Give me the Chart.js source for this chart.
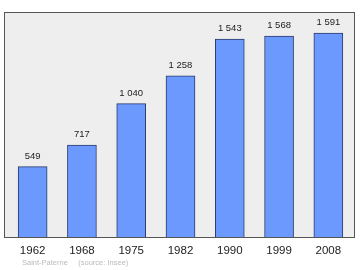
<!DOCTYPE html>
<html>
<head>
<meta charset="utf-8">
<script src="https://cdn.jsdelivr.net/npm/chart.js@4"></script>
<style>
  html, body { margin: 0; padding: 0; background: #fff; }
  #wrap { width: 360px; height: 270px; position: relative; }
</style>
</head>
<body>
<div id="wrap"><canvas id="chart"></canvas></div>
<script>
// --- DATA ---
const years = ["1962", "1968", "1975", "1982", "1990", "1999", "2008"];
const population = [549, 717, 1040, 1258, 1543, 1568, 1591];
const commune = "Saint-Paterne";
const source = "(source: Insee)";

const fmt = v => String(v).replace(/\B(?=(\d{3})+(?!\d))/g, " ");

// fond gris + cadre autour de la zone du graphique
const framePlugin = {
  id: "frame",
  beforeDatasetsDraw(chart) {
    const { ctx, chartArea: a } = chart;
    ctx.save();
    ctx.fillStyle = "#eeeeee";
    ctx.fillRect(a.left - 4, a.top, a.right - a.left + 6, a.bottom - a.top);
    ctx.restore();
  },
  afterDatasetsDraw(chart) {
    const { ctx, chartArea: a } = chart;
    ctx.save();
    ctx.strokeStyle = "#555555";
    ctx.lineWidth = 1;
    ctx.strokeRect(a.left - 4 + 0.5, a.top + 0.5, a.right - a.left + 6 - 1, a.bottom - a.top);

    // valeurs au-dessus des barres
    ctx.fillStyle = "#222";
    ctx.font = "9.5px 'Liberation Sans', Arial, sans-serif";
    ctx.textAlign = "center";
    ctx.textBaseline = "alphabetic";
    chart.getDatasetMeta(0).data.forEach((bar, i) => {
      ctx.fillText(fmt(population[i]), bar.x, bar.y - 8);
    });

    // pied de page
    ctx.fillStyle = "#bbbbbb";
    ctx.font = "7.5px 'Liberation Sans', Arial, sans-serif";
    ctx.textAlign = "left";
    ctx.fillText(commune + "     " + source, 22, 265);
    ctx.restore();
  }
};

new Chart(document.getElementById("chart").getContext("2d"), {
  type: "bar",
  data: {
    labels: years,
    datasets: [{
      data: population,
      backgroundColor: "#6b99fd",
      borderColor: "#2c3a6a",
      borderWidth: 1,
      borderSkipped: "bottom",
      barThickness: 29
    }]
  },
  options: {
    responsive: true,
    maintainAspectRatio: false,
    animation: false,
    layout: { padding: { left: 8, right: 7, top: 12, bottom: 0 } },
    plugins: { legend: { display: false }, tooltip: { enabled: false } },
    scales: {
      x: {
        grid: { display: false, drawTicks: false },
        border: { display: false },
        ticks: {
          color: "#222",
          padding: 7,
          font: { size: 11.5, family: "'Liberation Sans', Arial, sans-serif" }
        },
        afterFit(scale) { scale.height = 33; }
      },
      y: {
        display: false,
        min: 0,
        max: 1755
      }
    }
  },
  plugins: [framePlugin]
});
</script>
</body>
</html>
